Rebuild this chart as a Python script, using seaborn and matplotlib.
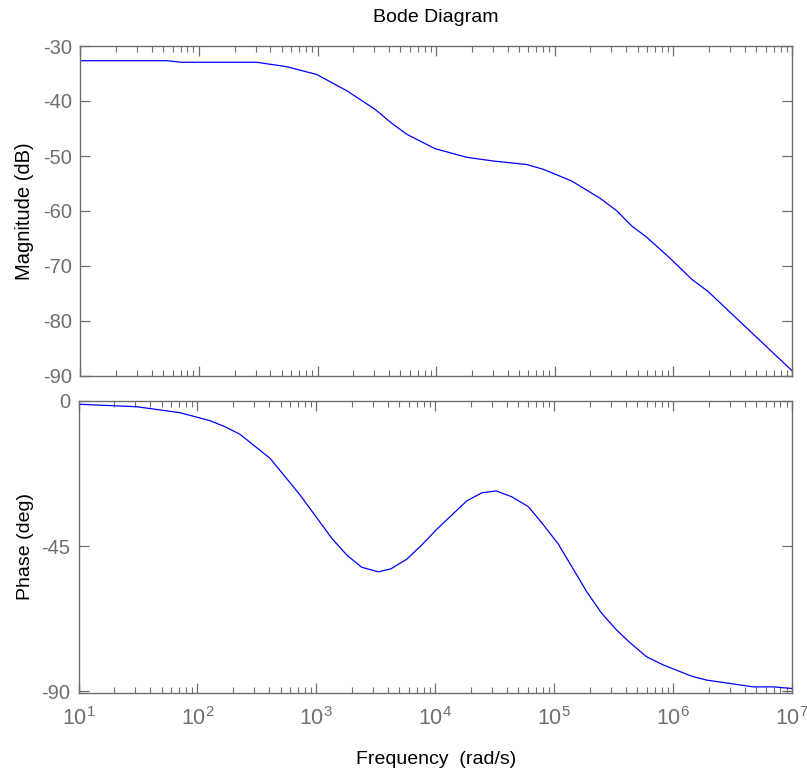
import numpy as np
import pandas as pd
import matplotlib
matplotlib.use("Agg")
import matplotlib.pyplot as plt
from matplotlib import font_manager
from matplotlib.ticker import LogLocator, FixedLocator, NullFormatter
import seaborn as sns

# ---- data ----
mag_freq = [10, 53.6, 71.6, 307, 549, 985, 1762, 3054, 4225, 5654, 9791,
            18130, 30340, 58020, 80140, 1.39e5, 2.41e5, 3.33e5, 4.46e5,
            5.97e5, 9.38e5, 1.43e6, 1.97e6, 1.0e7]
mag_db = [-32.67, -32.67, -32.96, -32.96, -33.76, -35.18, -38.13, -41.51,
          -44.05, -46.05, -48.67, -50.24, -50.91, -51.55, -52.42, -54.55,
          -57.69, -59.95, -62.73, -64.78, -68.6, -72.42, -74.67, -89.04]

ph_freq = [10, 30.8, 71.4, 127.6, 170.6, 228, 408, 730, 1349, 1803, 2410,
           3319, 4227, 5754, 7691, 10300, 18410, 24600, 32430, 43950,
           60670, 78700, 1.084e5, 1.449e5, 1.879e5, 2.512e5, 3.357e5,
           4.345e5, 6.012e5, 8.279e5, 1.435e6, 1.919e6, 4.732e6, 6.982e6, 1.0e7]
ph_deg = [-1.0, -1.77, -3.63, -6.11, -7.98, -10.33, -17.78, -29.17, -42.6,
          -47.8, -51.6, -53.0, -52.1, -49.1, -44.7, -39.8, -31.0, -28.5,
          -27.9, -29.7, -32.8, -37.8, -44.4, -52.2, -59.2, -65.9, -71.1,
          -75.0, -79.4, -81.9, -85.4, -86.6, -88.7, -88.7, -89.2]

mag_yticks = [-30, -40, -50, -60, -70, -80, -90]
ph_yticks = [0, -45, -90]
x_major = [1e1, 1e2, 1e3, 1e4, 1e5, 1e6, 1e7]
x_labels = [r"$10^{%d}$" % k for k in range(1, 8)]

title_text = "Bode Diagram"
mag_label = "Magnitude (dB)"
ph_label = "Phase (deg)"
x_label = "Frequency  (rad/s)"

# ---- style ----
sns.set_theme(style="white")
names = {f.name for f in font_manager.fontManager.ttflist}
fam = "Liberation Sans Narrow" if "Liberation Sans Narrow" in names else "Liberation Sans"
plt.rcParams["font.family"] = [fam, "DejaVu Sans"]
plt.rcParams["mathtext.fontset"] = "custom"
plt.rcParams["mathtext.rm"] = fam
plt.rcParams["mathtext.it"] = fam
plt.rcParams["mathtext.default"] = "rm"

FS_TICK = 14.5
FS_XTICK = 15.5
FS_LAB = 14
SPINE = "#6e6e6e"
TICKC = "#6e6e6e"

W, H = 807, 775
fig = plt.figure(figsize=(W / 100, H / 100), dpi=100)
fig.patch.set_facecolor("white")

ax1 = fig.add_axes([80.3 / W, 1 - 376 / H, (792 - 80.3) / W, (376 - 46) / H])
ax2 = fig.add_axes([78.5 / W, 1 - 693 / H, (792 - 78.5) / W, (693 - 401) / H])

df_mag = pd.DataFrame({"f": mag_freq, "v": mag_db})
df_ph = pd.DataFrame({"f": ph_freq, "v": ph_deg})

sns.lineplot(data=df_mag, x="f", y="v", ax=ax1, color="#0000ff",
             linewidth=0.9, estimator=None, sort=False)
sns.lineplot(data=df_ph, x="f", y="v", ax=ax2, color="#0000ff",
             linewidth=0.9, estimator=None, sort=False)

for ax in (ax1, ax2):
    ax.set_xscale("log")
    ax.set_xlim(10, 1e7)
    ax.set_facecolor("white")
    for s in ax.spines.values():
        s.set_color(SPINE)
        s.set_linewidth(1.0)
        s.set_visible(True)
    ax.xaxis.set_major_locator(FixedLocator(x_major))
    ax.xaxis.set_minor_locator(LogLocator(base=10, subs=np.arange(2, 10), numticks=20))
    ax.xaxis.set_minor_formatter(NullFormatter())
    ax.tick_params(axis="both", which="major", direction="in", length=7,
                   width=0.9, color=SPINE, labelcolor=TICKC, labelsize=FS_TICK,
                   top=True, right=True, bottom=True, left=True, pad=6)
    ax.tick_params(axis="x", which="minor", direction="in", length=4,
                   width=0.8, color=SPINE, top=True, bottom=True)
    ax.grid(False)
    ax.set_xlabel("")
    ax.set_ylabel("")

ax1.set_ylim(-90, -30)
ax1.yaxis.set_major_locator(FixedLocator(mag_yticks))
ax1.set_yticklabels([str(v) for v in mag_yticks])
ax1.set_xticklabels([])

ax2.set_ylim(-90.6, 0)
ax2.yaxis.set_major_locator(FixedLocator(ph_yticks))
ax2.set_yticklabels([str(v) for v in ph_yticks])
ax2.set_xticklabels(x_labels)
ax2.tick_params(axis="x", which="major", pad=10, labelsize=FS_XTICK)

fig.text(436 / W, 1 - 18 / H, title_text, ha="center", va="center",
         fontsize=FS_LAB, color="black")
fig.text(25 / W, 1 - 211 / H, mag_label, ha="center", va="center",
         rotation=90, fontsize=FS_LAB + 0.5, color="black")
fig.text(25 / W, 1 - 547 / H, ph_label, ha="center", va="center",
         rotation=90, fontsize=FS_LAB, color="black")
fig.text(436 / W, 1 - 760 / H, x_label, ha="center", va="center",
         fontsize=FS_LAB, color="black")

fig.savefig("out.png", dpi=100, facecolor="white")
